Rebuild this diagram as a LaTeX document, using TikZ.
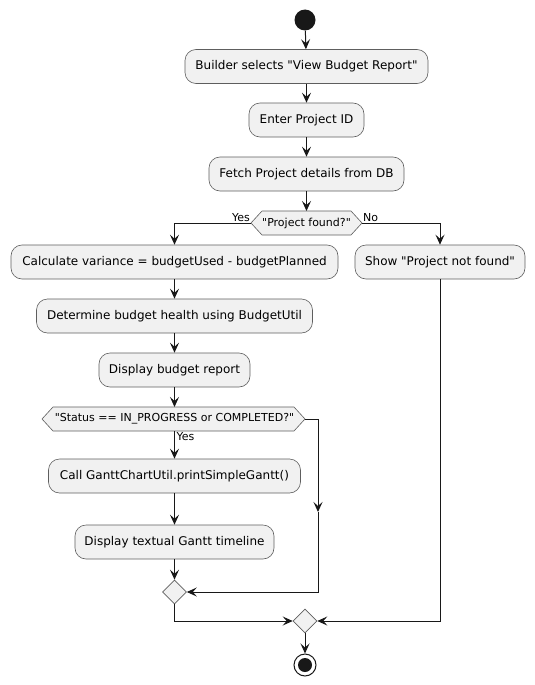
\documentclass[tikz,border=0pt]{standalone}
\usepackage{fontspec}
\setmainfont{DejaVu Sans}[Ligatures=TeXOff]
\usetikzlibrary{arrows.meta,shapes.geometric,calc}
\definecolor{boxfill}{HTML}{F1F1F1}
\definecolor{boxline}{HTML}{5E5E5E}
\definecolor{linecol}{HTML}{181818}
\tikzset{
  act/.style={draw=boxline, fill=boxfill, rounded corners=11pt, minimum height=34pt, inner sep=0pt, font=\fontsize{12}{14}\selectfont, line width=0.6pt},
  decfill/.style={draw=boxline, fill=boxfill, line width=0.6pt},
  dectext/.style={font=\fontsize{11}{13}\selectfont, inner sep=0pt},
  lbl/.style={font=\fontsize{11}{13}\selectfont, inner sep=1pt},
  merge/.style={diamond, draw=boxline, fill=boxfill, minimum width=24pt, minimum height=24pt, inner sep=0pt, line width=0.6pt},
  flow/.style={draw=linecol, line width=1pt, -{Stealth[length=10pt,width=9pt,inset=4pt]}},
  plain/.style={draw=linecol, line width=1pt},
}
\begin{document}
\begin{tikzpicture}[x=1pt,y=-1pt]
\useasboundingbox (0,0) rectangle (535,685);
% start
\node[circle, fill=linecol, minimum size=21pt, inner sep=0pt] (start) at (305,20) {};
\node[act, minimum width=243pt] (b1) at (306.5,66.5) {Builder selects "View Budget Report"};
\node[act, minimum width=115pt] (b2) at (306.5,120) {Enter Project ID};
\node[act, minimum width=195pt] (b3) at (306.5,174) {Fetch Project details from DB};
% decision 1
\coordinate (d1w) at (251,223);
\coordinate (d1e) at (362,223);
\draw[decfill] (d1w) -- (262,211) -- (351,211) -- (d1e) -- (351,235) -- (262,235) -- cycle;
\node[dectext] (d1) at (306.5,223) {"Project found?"};
\coordinate (d1n) at (306.5,211);
\node[act, minimum width=327pt] (b4) at (174.5,262) {Calculate variance = budgetUsed - budgetPlanned};
\node[act, minimum width=170pt] (b5) at (440,262) {Show "Project not found"};
\node[act, minimum width=276pt] (b6) at (174.5,316) {Determine budget health using BudgetUtil};
\node[act, minimum width=151pt] (b7) at (174.5,370) {Display budget report};
% decision 2
\coordinate (d2w) at (42,419);
\coordinate (d2e) at (305,419);
\draw[decfill] (d2w) -- (53,407) -- (294,407) -- (d2e) -- (294,431) -- (53,431) -- cycle;
\node[dectext] (d2) at (174.5,419) {"Status == IN\_PROGRESS or COMPLETED?"};
\coordinate (d2n) at (174.5,407);
\coordinate (d2s) at (174.5,431);
\node[act, minimum width=252pt] (b8) at (174.5,476) {Call GanttChartUtil.printSimpleGantt()};
\node[act, minimum width=199pt] (b9) at (174.5,542) {Display textual Gantt timeline};
\node[merge] (m1) at (174.5,592) {};
\node[merge] (m2) at (305,621) {};
\node[circle, draw=linecol, fill=white, line width=1pt, minimum size=22pt, inner sep=0pt] (stop) at (305,665) {};
\node[circle, fill=linecol, minimum size=14pt, inner sep=0pt] (stopin) at (stop) {};
\coordinate (mid) at (318,512);
% connectors
\draw[flow] (start) -- (b1);
\draw[flow] (b1) -- (b2);
\draw[flow] (b2) -- (b3);
\draw[flow] (b3) -- (d1n);
\draw[flow] (d1w) -| (b4.north);
\draw[flow] (d1e) -| (b5.north);
\node[lbl, anchor=south east] (yes1) at (d1w) {Yes};
\node[lbl, anchor=south west] (no1) at (d1e) {No};
\draw[flow] (b4) -- (b6);
\draw[flow] (b6) -- (b7);
\draw[flow] (b7) -- (d2n);
\draw[flow] (d2s) -- (b8.north);
\node[lbl, anchor=north west] (yes2) at ($(d2s)+(1,0)$) {Yes};
\draw[flow] (b8) -- (b9);
\draw[flow] (d2e) -| (mid);
\draw[flow] (mid) |- (m1.east);
\draw[flow] (b9) -- (m1.north);
\draw[flow] (m1.south) |- (m2.west);
\draw[flow] (b5.south) |- (m2.east);
\draw[flow] (m2.south) -- (stop.north);
\end{tikzpicture}
\end{document}
